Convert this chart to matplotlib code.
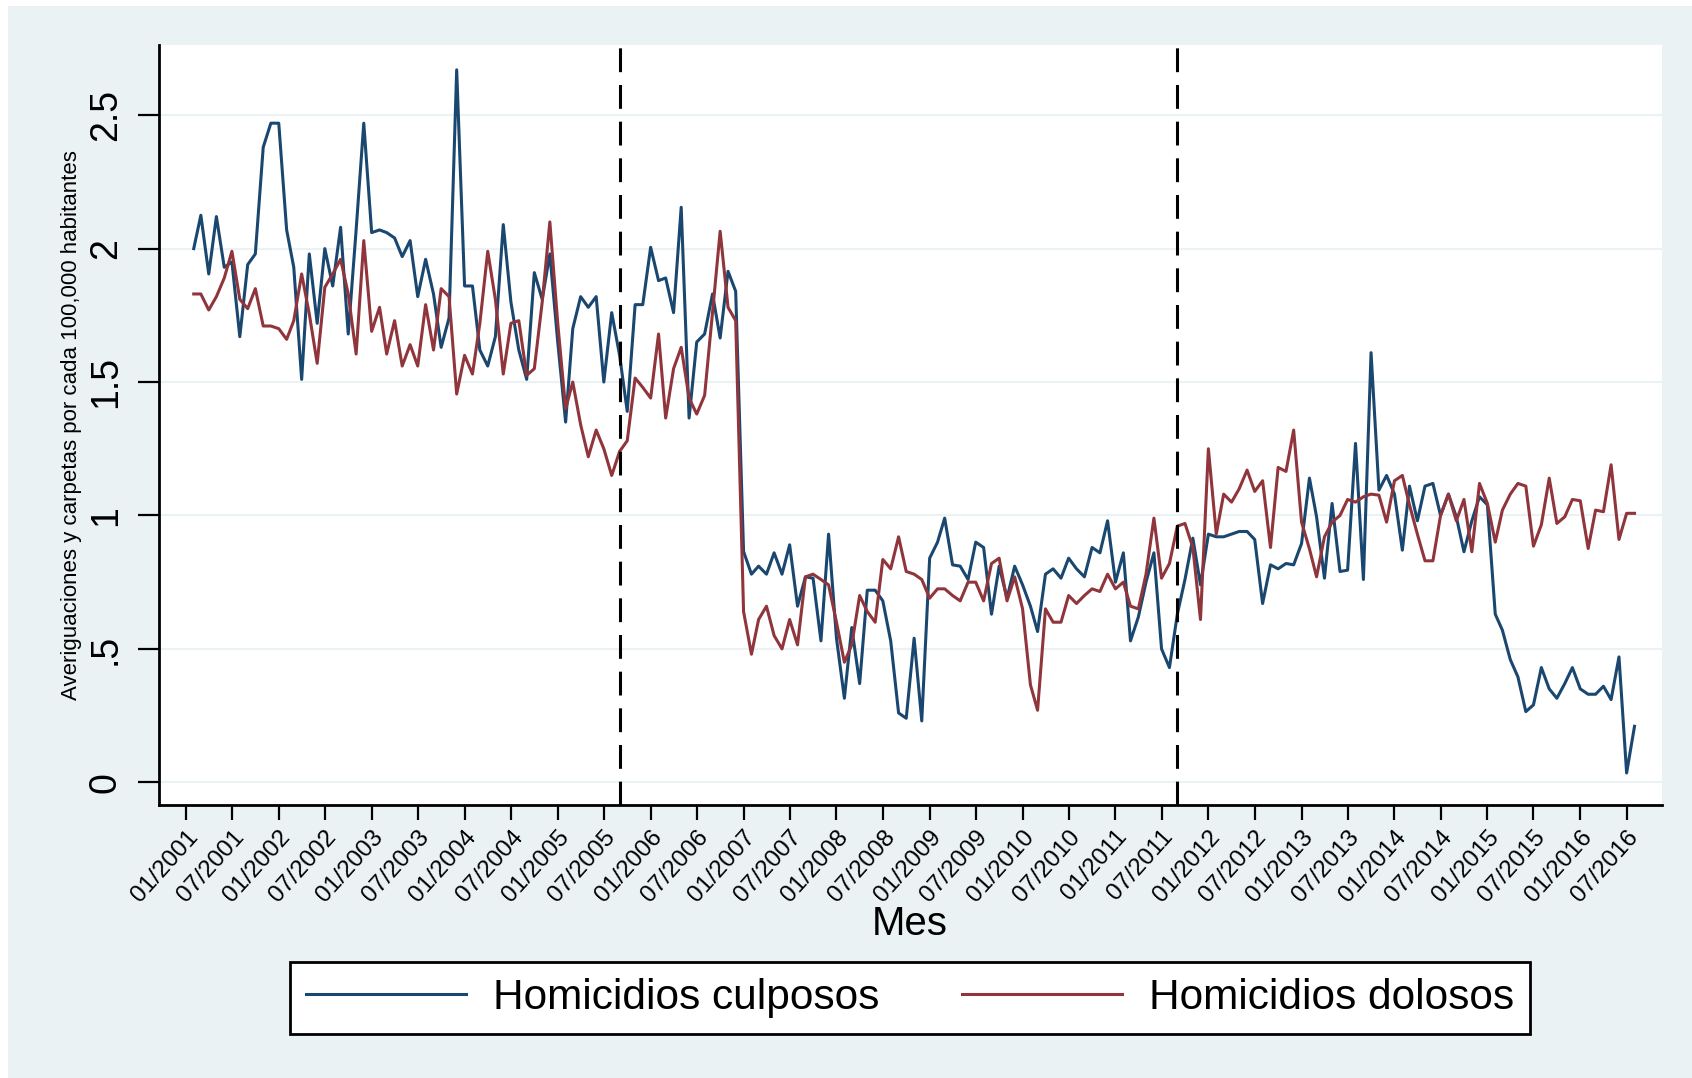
import numpy as np
import pandas as pd
import matplotlib
matplotlib.use("Agg")
import matplotlib.pyplot as plt
from matplotlib.patches import Rectangle

plt.rcParams['font.family'] = ['Liberation Sans', 'DejaVu Sans']

# monthly series, Feb 2001 .. Aug 2016
meses = pd.date_range("2001-02-01", periods=187, freq="MS")

culposos = [
    2.00, 2.125, 1.905, 2.12, 1.93, 1.95, 1.67, 1.94, 1.98, 2.38, 2.47, 2.47,
    2.07, 1.93, 1.51, 1.98, 1.72, 2.00, 1.86, 2.08, 1.68, 2.07, 2.47, 2.06,
    2.07, 2.06, 2.04, 1.97, 2.03, 1.82, 1.96, 1.83, 1.63, 1.74, 2.67, 1.86,
    1.86, 1.62, 1.56, 1.67, 2.09, 1.80, 1.62, 1.51, 1.91, 1.81, 1.98, 1.65,
    1.35, 1.70, 1.82, 1.78, 1.82, 1.50, 1.76, 1.60, 1.39, 1.79, 1.79, 2.005,
    1.88, 1.89, 1.76, 2.155, 1.365, 1.65, 1.68, 1.83, 1.665, 1.915, 1.84, 0.865,
    0.78, 0.81, 0.78, 0.86, 0.78, 0.89, 0.66, 0.77, 0.765, 0.53, 0.93, 0.54,
    0.315, 0.58, 0.37, 0.72, 0.72, 0.68, 0.53, 0.26, 0.24, 0.54, 0.23, 0.84,
    0.90, 0.99, 0.815, 0.81, 0.76, 0.90, 0.88, 0.63, 0.81, 0.69, 0.81, 0.74,
    0.66, 0.565, 0.78, 0.80, 0.765, 0.84, 0.80, 0.77, 0.88, 0.86, 0.98, 0.75,
    0.86, 0.53, 0.62, 0.75, 0.86, 0.50, 0.43, 0.63, 0.76, 0.915, 0.74, 0.93,
    0.92, 0.92, 0.93, 0.94, 0.94, 0.91, 0.67, 0.815, 0.80, 0.82, 0.815, 0.895,
    1.14, 0.995, 0.765, 1.045, 0.79, 0.795, 1.27, 0.76, 1.61, 1.095, 1.15, 1.08,
    0.87, 1.11, 0.98, 1.11, 1.12, 1.00, 1.08, 0.995, 0.864, 0.98, 1.07, 1.04,
    0.63, 0.57, 0.46, 0.395, 0.265, 0.29, 0.43, 0.35, 0.315, 0.37, 0.43, 0.35,
    0.33, 0.33, 0.36, 0.31, 0.47, 0.035, 0.21,
]

dolosos = [
    1.83, 1.83, 1.77, 1.82, 1.89, 1.99, 1.81, 1.775, 1.85, 1.71, 1.71, 1.70,
    1.66, 1.73, 1.905, 1.755, 1.57, 1.855, 1.905, 1.96, 1.83, 1.605, 2.03, 1.69,
    1.78, 1.605, 1.73, 1.56, 1.64, 1.56, 1.79, 1.62, 1.85, 1.82, 1.455, 1.60,
    1.53, 1.72, 1.99, 1.81, 1.53, 1.72, 1.73, 1.525, 1.55, 1.80, 2.10, 1.72,
    1.40, 1.50, 1.34, 1.22, 1.32, 1.25, 1.15, 1.24, 1.28, 1.515, 1.48, 1.44,
    1.68, 1.365, 1.55, 1.63, 1.44, 1.38, 1.45, 1.76, 2.065, 1.78, 1.73, 0.64,
    0.48, 0.61, 0.66, 0.55, 0.50, 0.61, 0.515, 0.77, 0.78, 0.76, 0.74, 0.60,
    0.45, 0.515, 0.70, 0.64, 0.60, 0.835, 0.80, 0.92, 0.79, 0.78, 0.76, 0.69,
    0.725, 0.725, 0.70, 0.68, 0.75, 0.75, 0.68, 0.82, 0.84, 0.68, 0.77, 0.65,
    0.365, 0.27, 0.65, 0.60, 0.60, 0.70, 0.67, 0.70, 0.725, 0.715, 0.78, 0.725,
    0.75, 0.66, 0.65, 0.78, 0.99, 0.765, 0.82, 0.96, 0.97, 0.88, 0.61, 1.25,
    0.93, 1.08, 1.05, 1.10, 1.17, 1.09, 1.13, 0.88, 1.18, 1.165, 1.32, 0.975,
    0.875, 0.77, 0.92, 0.975, 1.00, 1.06, 1.05, 1.07, 1.08, 1.076, 0.975, 1.13,
    1.15, 1.04, 0.93, 0.83, 0.83, 1.00, 1.08, 0.98, 1.06, 0.864, 1.12, 1.045,
    0.90, 1.02, 1.08, 1.12, 1.11, 0.885, 0.965, 1.14, 0.97, 0.995, 1.06, 1.055,
    0.876, 1.02, 1.014, 1.19, 0.91, 1.008, 1.008,
]

cortes = [pd.Timestamp("2005-09-01"), pd.Timestamp("2011-09-01")]
xticks = pd.date_range("2001-01-01", "2016-07-01", freq="6MS")
xticklabels = [d.strftime("%m/%Y") for d in xticks]
yticks = [0, 0.5, 1, 1.5, 2, 2.5]
yticklabels = ["0", ".5", "1", "1.5", "2", "2.5"]

azul = "#1A476F"
rojo = "#90353B"
fondo = "#EAF2F3"

#%%

fig = plt.figure(figsize=(16.92, 10.78), dpi=100)
fig.patch.set_facecolor("white")
fig.patches.append(Rectangle((8/1692, 0), 1, 1 - 6/1078, transform=fig.transFigure,
                             facecolor=fondo, edgecolor="none", zorder=-10))

ax = fig.add_axes([158.6/1692, 1 - 805/1078, (1662 - 158.6)/1692, (805 - 45)/1078])
ax.set_facecolor("white")

l1, = ax.plot(meses, culposos, color=azul, lw=2.2, zorder=2)
l2, = ax.plot(meses, dolosos, color=rojo, lw=2.2, zorder=2)

for c in cortes:
    ax.axvline(c, color="black", lw=2.2, dashes=(7.8, 4.2), zorder=3)

ax.set_xlim(pd.Timestamp("2000-09-16"), pd.Timestamp("2016-11-17"))
ax.set_ylim(-0.085, 2.763)

ax.set_yticks(yticks)
ax.set_yticklabels(yticklabels, rotation=90, va="center", fontsize=27)
ax.set_xticks(xticks)
ax.set_xticklabels(xticklabels, rotation=48, ha="right", va="top",
                   rotation_mode="anchor", fontsize=17.5)

ax.grid(axis="y", color=fondo, lw=1.5, zorder=0)
ax.set_axisbelow(True)
ax.tick_params(axis="y", length=15, width=1.6, pad=10)
ax.tick_params(axis="x", length=11, width=1.6, pad=4)
for s in ["top", "right"]:
    ax.spines[s].set_visible(False)
for s in ["left", "bottom"]:
    ax.spines[s].set_linewidth(2)

fig.text(72/1692, 1 - 425/1078, "Averiguaciones y carpetas por cada 100,000 habitantes",
         rotation=90, ha="center", va="center", fontsize=16)
fig.text(910/1692, 1 - 924/1078, "Mes", ha="center", va="center", fontsize=29)

leg = ax.legend([l1, l2], ["Homicidios culposos", "Homicidios dolosos"],
                loc="center", bbox_to_anchor=(910/1692, 1 - 997.6/1078),
                bbox_transform=fig.transFigure, ncol=2, fontsize=30.5,
                frameon=True, fancybox=False, edgecolor="black", framealpha=1,
                handlelength=3.77, handletextpad=0.64, columnspacing=1.95,
                borderpad=0.38)
leg.get_frame().set_linewidth(2)

fig.savefig("out.png", dpi=100)
